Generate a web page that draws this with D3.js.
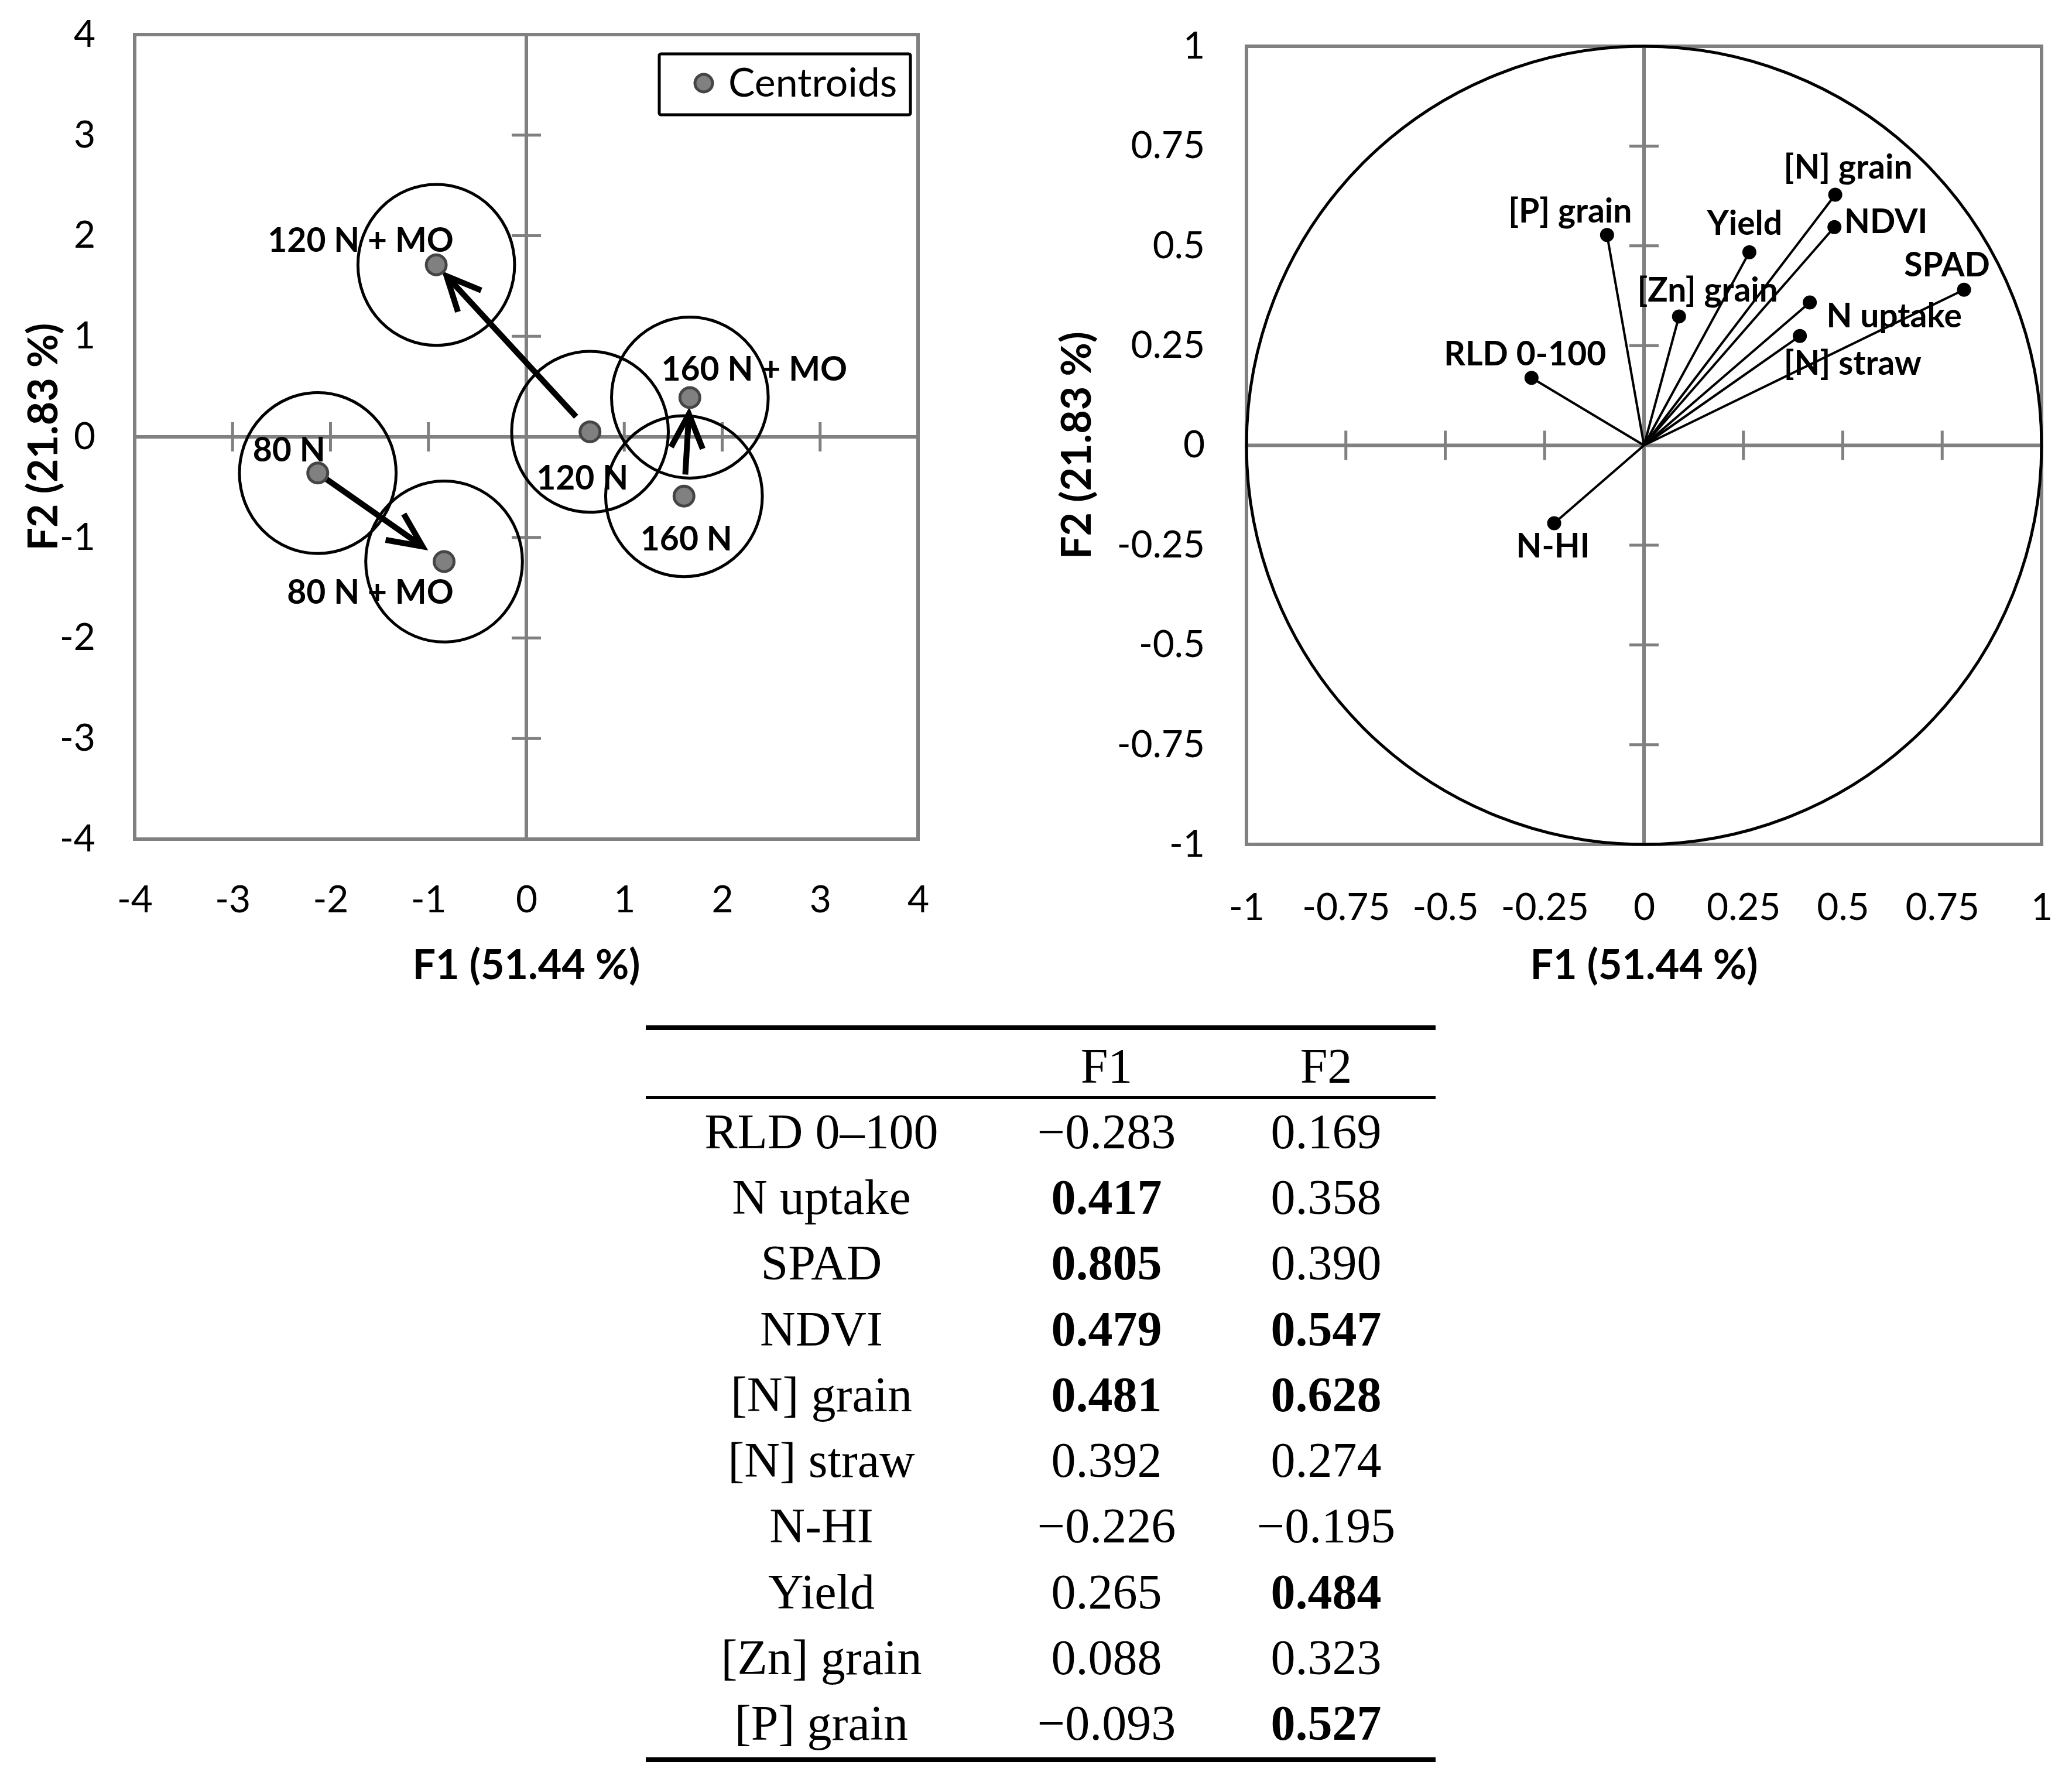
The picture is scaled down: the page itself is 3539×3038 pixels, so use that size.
<!DOCTYPE html>
<html><head><meta charset="utf-8">
<script src="https://cdn.jsdelivr.net/npm/d3@7"></script>
<style>html,body{margin:0;padding:0;background:#fff}svg{display:block}</style>
</head><body>
<svg id="c" width="3539" height="3038"></svg>
<script>
// ---------------- DATA ----------------
// Left panel: treatment centroids (F1, F2 scores)
const centroidNames = ["80 N", "80 N + MO", "120 N", "120 N + MO", "160 N", "160 N + MO"];
const centroidF1 = [-2.13, -0.84, 0.65, -0.92, 1.61, 1.67];
const centroidF2 = [-0.36, -1.24, 0.05, 1.71, -0.59, 0.39];
const confRadius = 0.8;
const arrowFrom = ["80 N", "120 N", "160 N"];
const arrowTo = ["80 N + MO", "120 N + MO", "160 N + MO"];
const scoreTicks = [-4, -3, -2, -1, 0, 1, 2, 3, 4];

// Right panel + table: loadings
const varLabels = ["RLD 0-100", "N uptake", "SPAD", "NDVI", "[N] grain", "[N] straw", "N-HI", "Yield", "[Zn] grain", "[P] grain"];
const tableVars = ["RLD 0–100", "N uptake", "SPAD", "NDVI", "[N] grain", "[N] straw", "N-HI", "Yield", "[Zn] grain", "[P] grain"];
const loadF1 = [-0.283, 0.417, 0.805, 0.479, 0.481, 0.392, -0.226, 0.265, 0.088, -0.093];
const loadF2 = [0.169, 0.358, 0.390, 0.547, 0.628, 0.274, -0.195, 0.484, 0.323, 0.527];
const boldF1 = [false, true, true, true, true, false, false, false, false, false];
const boldF2 = [false, false, false, true, true, false, false, true, false, true];
const loadTicks = [-1, -0.75, -0.5, -0.25, 0, 0.25, 0.5, 0.75, 1];
const tableCols = ["F1", "F2"];
const xTitle = "F1 (51.44 %)";
const yTitle = "F2 (21.83 %)";
const legendLabel = "Centroids";

// ---------------- LAYOUT / STYLE ----------------
const SANS = "Lato, 'Open Sans', 'Noto Sans', sans-serif";
const SERIF = "'Liberation Serif', 'DejaVu Serif', serif";
const GRAY = "#808080";
const svg = d3.select("#c");
svg.append("rect").attr("width", 3539).attr("height", 3038).attr("fill", "#fff");

// label offsets in px (dx of text center, dy of baseline) relative to the point
const centroidLabelPos = {
  "80 N": [-49, -20], "80 N + MO": [-126, 72], "120 N": [-13, 99],
  "120 N + MO": [-129, -22], "160 N": [4, 93], "160 N + MO": [110, -29]
};
const arrowGaps = [[0, 45], [35, 26], [37, 28]];
const varLabelPos = {
  "RLD 0-100": [-11, -21], "N uptake": [144, 42], "SPAD": [-29, -23], "NDVI": [88, 10],
  "[N] grain": [22, -28], "[N] straw": [90, 66], "N-HI": [-2, 59], "Yield": [-8, -30],
  "[Zn] grain": [49, -25], "[P] grain": [-63, -21]
};

function fmtTick(v) { return String(v); } // hyphen-minus like the original

function panel(box, domain, ticks, padX, padY, titleY, yTitleX) {
  const g = svg.append("g");
  const x = d3.scaleLinear().domain(domain).range([box.x0, box.x1]);
  const y = d3.scaleLinear().domain(domain).range([box.y1, box.y0]);
  g.append("rect").attr("x", box.x0).attr("y", box.y0)
    .attr("width", box.x1 - box.x0).attr("height", box.y1 - box.y0)
    .attr("fill", "none").attr("stroke", GRAY).attr("stroke-width", 6);
  g.append("line").attr("x1", box.x0).attr("x2", box.x1).attr("y1", y(0)).attr("y2", y(0))
    .attr("stroke", GRAY).attr("stroke-width", 6);
  g.append("line").attr("y1", box.y0).attr("y2", box.y1).attr("x1", x(0)).attr("x2", x(0))
    .attr("stroke", GRAY).attr("stroke-width", 6);
  const inner = ticks.filter(t => t !== 0 && t !== domain[0] && t !== domain[1]);
  g.selectAll(".tx").data(inner).join("line")
    .attr("x1", d => x(d)).attr("x2", d => x(d)).attr("y1", y(0) - 25).attr("y2", y(0) + 25)
    .attr("stroke", GRAY).attr("stroke-width", 5);
  g.selectAll(".ty").data(inner).join("line")
    .attr("y1", d => y(d)).attr("y2", d => y(d)).attr("x1", x(0) - 25).attr("x2", x(0) + 25)
    .attr("stroke", GRAY).attr("stroke-width", 5);
  const ax = g.append("g").attr("transform", `translate(0,${box.y1})`)
    .call(d3.axisBottom(x).tickValues(ticks).tickSize(0).tickPadding(padY).tickFormat(fmtTick));
  const ay = g.append("g").attr("transform", `translate(${box.x0},0)`)
    .call(d3.axisLeft(y).tickValues(ticks).tickSize(0).tickPadding(padX).tickFormat(fmtTick));
  [ax, ay].forEach(a => {
    a.select(".domain").remove();
    a.attr("font-family", SANS).attr("font-size", 64);
    a.selectAll("text").attr("fill", "#000");
  });
  g.append("text").attr("x", (box.x0 + box.x1) / 2).attr("y", titleY)
    .attr("text-anchor", "middle").attr("font-family", SANS).attr("font-weight", "bold")
    .attr("font-size", 70).text(xTitle);
  g.append("text").attr("transform", `translate(${yTitleX},${(box.y0 + box.y1) / 2}) rotate(-90)`)
    .attr("text-anchor", "middle").attr("font-family", SANS).attr("font-weight", "bold")
    .attr("font-size", 70).text(yTitle);
  return { g, x, y };
}

// ---------------- LEFT PANEL ----------------
const LB = { x0: 230, x1: 1568, y0: 59, y1: 1433 };
const P1 = panel(LB, [-4, 4], scoreTicks, 67, 80, 1672, 98);
const xL = P1.x, yL = P1.y, gL = P1.g;
const cents = centroidNames.map((n, i) => ({ name: n, f1: centroidF1[i], f2: centroidF2[i] }));
const byName = Object.fromEntries(cents.map(c => [c.name, c]));

gL.selectAll(".conf").data(cents).join("ellipse")
  .attr("cx", d => xL(d.f1)).attr("cy", d => yL(d.f2))
  .attr("rx", xL(confRadius) - xL(0)).attr("ry", yL(0) - yL(confRadius))
  .attr("fill", "none").attr("stroke", "#000").attr("stroke-width", 5);

arrowFrom.forEach((fn, i) => {
  const a = byName[fn], b = byName[arrowTo[i]];
  const p0 = [xL(a.f1), yL(a.f2)], p1 = [xL(b.f1), yL(b.f2)];
  const dx = p1[0] - p0[0], dy = p1[1] - p0[1], len = Math.hypot(dx, dy);
  const ux = dx / len, uy = dy / len;
  const s = [p0[0] + ux * arrowGaps[i][0], p0[1] + uy * arrowGaps[i][0]];
  const e = [p1[0] - ux * arrowGaps[i][1], p1[1] - uy * arrowGaps[i][1]];
  const ang = 25 * Math.PI / 180, hl = 64;
  const arm = sgn => {
    const c = Math.cos(sgn * ang), sn = Math.sin(sgn * ang);
    const bx = -ux, by = -uy;
    return [e[0] + hl * (bx * c - by * sn), e[1] + hl * (bx * sn + by * c)];
  };
  const a1 = arm(1), a2 = arm(-1);
  gL.append("line").attr("x1", s[0]).attr("y1", s[1]).attr("x2", e[0]).attr("y2", e[1])
    .attr("stroke", "#000").attr("stroke-width", 10);
  gL.append("path").attr("d", `M${a1[0]},${a1[1]}L${e[0]},${e[1]}L${a2[0]},${a2[1]}`)
    .attr("fill", "none").attr("stroke", "#000").attr("stroke-width", 10).attr("stroke-linejoin", "miter");
});

gL.selectAll(".dot").data(cents).join("circle")
  .attr("cx", d => xL(d.f1)).attr("cy", d => yL(d.f2)).attr("r", 17)
  .attr("fill", GRAY).attr("stroke", "#454545").attr("stroke-width", 5);

gL.selectAll(".lab").data(cents).join("text")
  .attr("x", d => xL(d.f1) + centroidLabelPos[d.name][0])
  .attr("y", d => yL(d.f2) + centroidLabelPos[d.name][1])
  .attr("text-anchor", "middle").attr("font-family", SANS).attr("font-weight", "bold")
  .attr("font-size", 57).text(d => d.name);

// legend
const lg = gL.append("g");
lg.append("rect").attr("x", 1126).attr("y", 92).attr("width", 429).attr("height", 104)
  .attr("fill", "#fff").attr("stroke", "#000").attr("stroke-width", 5).attr("rx", 3);
lg.append("circle").attr("cx", 1202).attr("cy", 142).attr("r", 15)
  .attr("fill", GRAY).attr("stroke", "#454545").attr("stroke-width", 5);
lg.append("text").attr("x", 1244).attr("y", 165).attr("font-family", SANS)
  .attr("font-size", 68).text(legendLabel);

// ---------------- RIGHT PANEL ----------------
const RB = { x0: 2129, x1: 3487, y0: 79, y1: 1442 };
const P2 = panel(RB, [-1, 1], loadTicks, 71, 84, 1672, 1863);
const xR = P2.x, yR = P2.y, gR = P2.g;
const loads = varLabels.map((n, i) => ({ name: n, f1: loadF1[i], f2: loadF2[i] }));

gR.append("ellipse").attr("cx", xR(0)).attr("cy", yR(0))
  .attr("rx", xR(1) - xR(0)).attr("ry", yR(0) - yR(1))
  .attr("fill", "none").attr("stroke", "#000").attr("stroke-width", 5);
gR.selectAll(".vec").data(loads).join("line")
  .attr("x1", xR(0)).attr("y1", yR(0)).attr("x2", d => xR(d.f1)).attr("y2", d => yR(d.f2))
  .attr("stroke", "#000").attr("stroke-width", 4);
gR.selectAll(".vdot").data(loads).join("circle")
  .attr("cx", d => xR(d.f1)).attr("cy", d => yR(d.f2)).attr("r", 12).attr("fill", "#000");
gR.selectAll(".vlab").data(loads).join("text")
  .attr("x", d => xR(d.f1) + varLabelPos[d.name][0])
  .attr("y", d => yR(d.f2) + varLabelPos[d.name][1])
  .attr("text-anchor", "middle").attr("font-family", SANS).attr("font-weight", "bold")
  .attr("font-size", 57).text(d => d.name);

// ---------------- TABLE ----------------
const T = { x0: 1103, x1: 2452, top: 1755, head: 1874.5, bottom: 3005 };
const colX = [1403, 1890, 2265];
const tg = svg.append("g").attr("font-family", SERIF).attr("font-size", 84).attr("text-anchor", "middle");
tg.append("line").attr("x1", T.x0).attr("x2", T.x1).attr("y1", T.top).attr("y2", T.top).attr("stroke", "#000").attr("stroke-width", 8);
tg.append("line").attr("x1", T.x0).attr("x2", T.x1).attr("y1", T.head).attr("y2", T.head).attr("stroke", "#000").attr("stroke-width", 5);
tg.append("line").attr("x1", T.x0).attr("x2", T.x1).attr("y1", T.bottom).attr("y2", T.bottom).attr("stroke", "#000").attr("stroke-width", 8);
tableCols.forEach((c, j) => tg.append("text").attr("x", colX[j + 1]).attr("y", 1849).text(c));
const rowY = d3.scaleLinear().domain([0, tableVars.length - 1]).range([1961, 2971]);
const fmtNum = v => (v < 0 ? "\u2212" : "") + Math.abs(v).toFixed(3);
tableVars.forEach((v, i) => {
  tg.append("text").attr("x", colX[0]).attr("y", rowY(i)).text(v);
  tg.append("text").attr("x", colX[1]).attr("y", rowY(i)).attr("font-weight", boldF1[i] ? "bold" : "normal").text(fmtNum(loadF1[i]));
  tg.append("text").attr("x", colX[2]).attr("y", rowY(i)).attr("font-weight", boldF2[i] ? "bold" : "normal").text(fmtNum(loadF2[i]));
});
</script>
</body></html>
